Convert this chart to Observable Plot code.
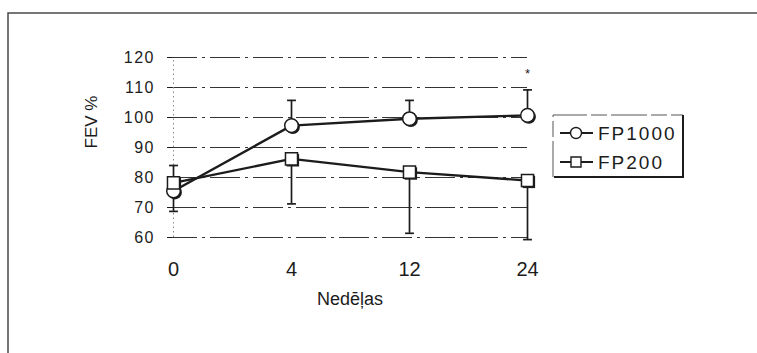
<!DOCTYPE html>
<html>
<head>
<meta charset="utf-8">
<script src="https://cdn.jsdelivr.net/npm/d3@7"></script>
<script src="https://cdn.jsdelivr.net/npm/@observablehq/plot@0.6"></script>
<style>
  html, body { margin: 0; padding: 0; background: #fff; overflow: hidden; }
  svg { display: block; }
</style>
</head>
<body>
<div id="chart"></div>
<script>
// Study weeks (categorical x positions)
const weeks = ["0", "4", "12", "24"];
const seriesNames = ["FP1000", "FP200"];

// Mean FEV % per week and its standard deviation
const fp1000Mean = [75.5, 97.3, 99.6, 100.7];
const fp1000Sd   = [8.5, 8.4, 6.1, 8.5];
const fp200Mean  = [78.2, 86.2, 81.8, 79.0];
const fp200Sd    = [9.5, 15.0, 20.4, 19.7];

const yTicks = [60, 70, 80, 90, 100, 110, 120];
const starWeeks = ["24"];          // weeks with a significant difference
const xTitle = "Nedēļas";
const yTitle = "FEV %";

// FP1000 bars point up, FP200 bars point down
const rows = [
  ...weeks.map((week, i) => ({week, series: "FP1000", mean: fp1000Mean[i], sd: fp1000Sd[i], dir: 1})),
  ...weeks.map((week, i) => ({week, series: "FP200", mean: fp200Mean[i], sd: fp200Sd[i], dir: -1}))
];
rows.forEach(d => d.end = d.mean + d.dir * d.sd);
const stars = rows.filter(d => d.series === "FP1000" && starWeeks.includes(d.week));

const ink = "#1c1c1c";
// horizontal whisker cap
const capSymbol = {
  draw(ctx, size) {
    const w = Math.sqrt(size);
    ctx.moveTo(-w / 2, 0);
    ctx.lineTo(w / 2, 0);
  }
};

const chart = Plot.plot({
  width: 757,
  height: 353,
  marginLeft: 172,
  marginRight: 230,
  marginTop: 57,
  marginBottom: 116,
  style: {fontFamily: "'Liberation Sans', Arial, sans-serif", background: "#fff", color: ink, overflow: "hidden"},
  x: {type: "point", domain: weeks, padding: 0},
  y: {domain: [60, 120]},
  symbol: {domain: seriesNames, range: ["circle", "square"]},
  marks: [
    Plot.ruleY(yTicks, {stroke: "#333", strokeWidth: 1.1, strokeDasharray: "30,5,3,5", insetLeft: -5}),
    Plot.ruleX(weeks.slice(0, 1), {y1: 60, y2: 120, stroke: "#888", strokeDasharray: "1.5,3"}),
    Plot.axisY(yTicks, {tickSize: 5, tickPadding: 12.5, fontSize: 16, label: null, stroke: ink}),
    Plot.axisX({tickSize: 0, tickPadding: 24, fontSize: 20, label: null}),
    Plot.text([yTitle], {frameAnchor: "left", dx: -81, dy: 1, rotate: -90, fontSize: 17, ariaLabel: "y-axis title"}),
    Plot.text([xTitle], {frameAnchor: "bottom", dy: 67, fontSize: 18, ariaLabel: "x-axis title"}),
    Plot.ruleX(rows, {x: "week", y1: "mean", y2: "end", stroke: ink, strokeWidth: 1.7}),
    Plot.dot(rows, {x: "week", y: "end", symbol: capSymbol, r: 5, fill: "none", stroke: ink, strokeWidth: 1.7}),
    Plot.line(rows, {x: "week", y: "mean", z: "series", stroke: ink, strokeWidth: 2.4}),
    Plot.dot(rows, {x: "week", y: "mean", symbol: "series", r: 7, fill: ink, stroke: "none", dx: 1.4, dy: 1.4}),
    Plot.dot(rows, {x: "week", y: "mean", symbol: "series", r: 6.8, fill: "#fff", stroke: ink, strokeWidth: 1.5}),
    Plot.text(stars, {x: "week", y: "end", text: () => "*", dy: -16, fontSize: 13})
  ]
});

document.getElementById("chart").appendChild(chart);

const svg = d3.select(chart);
svg.selectAll("g[aria-label='y-axis tick label'] text").attr("letter-spacing", 1.5);
svg.selectAll("g[aria-label='x-axis title'] text").attr("letter-spacing", 2.5);
svg.selectAll("g[aria-label='y-axis title'] text").attr("letter-spacing", 0.5);

// outer panel border (top and left edges fall inside the picture)
svg.insert("rect", ":first-child")
  .attr("x", 8).attr("y", 13).attr("width", 800).attr("height", 400)
  .attr("fill", "none").attr("stroke", "#4a4a4a").attr("stroke-width", 1.5);

// legend to the right of the plot area
const xs = chart.scale("x");
const legendX = xs.apply(weeks[weeks.length - 1]) + 26;
const lg = svg.append("g").attr("transform", `translate(${legendX},115)`);
lg.append("path").attr("d", "M0,62V0H130")
  .attr("fill", "none").attr("stroke", "#555").attr("stroke-width", 1).attr("stroke-dasharray", "36,4,16,4");
lg.append("path").attr("d", "M1,62H130V0")
  .attr("fill", "none").attr("stroke", ink).attr("stroke-width", 2);
seriesNames.forEach((name, i) => {
  const cy = 18 + i * 29;
  lg.append("line").attr("x1", 7).attr("x2", 40).attr("y1", cy).attr("y2", cy)
    .attr("stroke", ink).attr("stroke-width", 2);
  lg.append("path")
    .attr("transform", `translate(23,${cy})`)
    .attr("d", d3.symbol(i === 0 ? d3.symbolCircle : d3.symbolSquare, i === 0 ? 95 : 100)())
    .attr("fill", "#fff").attr("stroke", ink).attr("stroke-width", 1.4);
  lg.append("text").attr("x", 45).attr("y", cy + 6.8)
    .attr("text-anchor", "start")
    .attr("font-size", 19).attr("letter-spacing", 2).attr("fill", ink)
    .text(name);
});
</script>
</body>
</html>
